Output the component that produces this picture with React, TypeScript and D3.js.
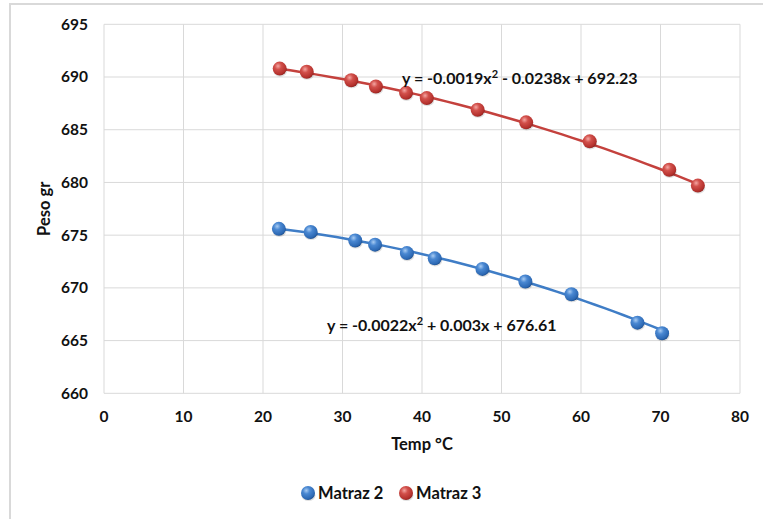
import React from 'react';
import * as d3 from 'd3';

// Matraz 2 (blue)
const tempM2 = [22.0, 26.0, 31.6, 34.1, 38.1, 41.6, 47.6, 53.0, 58.8, 67.1, 70.2];
const pesoM2 = [675.6, 675.3, 674.5, 674.1, 673.3, 672.8, 671.8, 670.6, 669.4, 666.7, 665.7];
// Matraz 3 (red)
const tempM3 = [22.1, 25.5, 31.1, 34.2, 38.0, 40.6, 47.0, 53.1, 61.1, 71.1, 74.7];
const pesoM3 = [690.8, 690.5, 689.7, 689.1, 688.5, 688.0, 686.9, 685.7, 683.9, 681.2, 679.7];

// trendline coefficients [a, b, c] for a x^2 + b x + c
const fitM2 = [-0.0022, 0.003, 676.61];
const fitM3 = [-0.0019, -0.0238, 692.23];

const xTicks = [0, 10, 20, 30, 40, 50, 60, 70, 80];
const yTicks = [660, 665, 670, 675, 680, 685, 690, 695];

const W = 763;
const H = 519;
const FONT = 'Lato, "Open Sans", sans-serif';
const INK = '#111';

const x = d3.scaleLinear().domain([0, 80]).range([104, 740]);
const y = d3.scaleLinear().domain([660, 695]).range([393.3, 24.3]);

const series = [
  { name: 'Matraz 2', xs: tempM2, ys: pesoM2, fit: fitM2, line: '#3f7dc6', grad: 'gBlue', eq: 'y = -0.0022x', eqRest: ' + 0.003x + 676.61', eqX: 327, eqY: 331 },
  { name: 'Matraz 3', xs: tempM3, ys: pesoM3, fit: fitM3, line: '#c4413d', grad: 'gRed', eq: 'y = -0.0019x', eqRest: ' - 0.0238x + 692.23', eqX: 402, eqY: 84 },
];

const trend = (fit: number[], xs: number[]) => {
  const [lo, hi] = d3.extent(xs) as [number, number];
  const pts: [number, number][] = d3.range(0, 41).map(i => {
    const t = lo + (hi - lo) * i / 40;
    return [t, fit[0] * t * t + fit[1] * t + fit[2]];
  });
  return d3.line<[number, number]>().x(d => x(d[0])).y(d => y(d[1]))(pts) || '';
};

const Ball = ({ cx, cy, grad, r = 7 }: { cx: number; cy: number; grad: string; r?: number }) => (
  <g>
    <ellipse cx={cx + 0.5} cy={cy + 2.5} rx={r} ry={r * 0.8} fill="#000" opacity={0.12} />
    <circle cx={cx} cy={cy} r={r} fill={`url(#${grad})`} />
  </g>
);

export default function App() {
  return (
    <svg width={W} height={H} style={{ position: 'absolute', left: 0, top: 0, background: '#fff' }}>
      <defs>
        <radialGradient id="gRed" cx="0.38" cy="0.32" r="0.7">
          <stop offset="0" stopColor="#f4a6a2" />
          <stop offset="0.35" stopColor="#d2504b" />
          <stop offset="0.85" stopColor="#b3302c" />
          <stop offset="1" stopColor="#8e2320" />
        </radialGradient>
        <radialGradient id="gBlue" cx="0.38" cy="0.32" r="0.7">
          <stop offset="0" stopColor="#a8cbf2" />
          <stop offset="0.35" stopColor="#4a88d2" />
          <stop offset="0.85" stopColor="#2c68b3" />
          <stop offset="1" stopColor="#1e4f8e" />
        </radialGradient>
      </defs>

      {/* chart border */}
      <rect x={10} y={4} width={W + 10} height={H + 10} fill="none" stroke="#d9d9d9" strokeWidth={2} />

      {/* gridlines */}
      {xTicks.map(t => (
        <line key={'gx' + t} x1={x(t)} x2={x(t)} y1={y(695)} y2={y(660)} stroke="#d9d9d9" strokeWidth={1} />
      ))}
      {yTicks.map(t => (
        <line key={'gy' + t} x1={x(0)} x2={x(80)} y1={y(t)} y2={y(t)} stroke="#d9d9d9" strokeWidth={1} />
      ))}

      {/* tick labels */}
      {yTicks.map(t => (
        <text key={'ty' + t} x={88} y={y(t)} dy="0.35em" textAnchor="end" fontFamily={FONT} fontWeight="bold" fontSize={15.5} fill={INK}>{t}</text>
      ))}
      {xTicks.map(t => (
        <text key={'tx' + t} x={x(t)} y={417} dy="0.35em" textAnchor="middle" fontFamily={FONT} fontWeight="bold" fontSize={15.5} fill={INK}>{t}</text>
      ))}

      {/* axis titles */}
      <text x={x(40)} y={444} dy="0.35em" textAnchor="middle" fontFamily={FONT} fontWeight="bold" fontSize={16.5} fill={INK}>Temp °C</text>
      <text transform={`translate(44,${(y(660) + y(695)) / 2}) rotate(-90)`} dy="0.35em" textAnchor="middle" fontFamily={FONT} fontWeight="bold" fontSize={16.5} fill={INK}>Peso gr</text>

      {/* trendlines and markers */}
      {series.map(s => (
        <g key={s.name}>
          <path d={trend(s.fit, s.xs)} fill="none" stroke={s.line} strokeWidth={2.5} />
          {s.xs.map((v, i) => (
            <Ball key={i} cx={x(v)} cy={y(s.ys[i])} grad={s.grad} />
          ))}
        </g>
      ))}

      {/* equations */}
      {series.map(s => (
        <text key={'eq' + s.name} x={s.eqX} y={s.eqY} fontFamily={FONT} fontWeight="bold" fontSize={16} fill={INK}>
          {s.eq}
          <tspan dy={-6} fontSize={11}>2</tspan>
          <tspan dy={6}>{s.eqRest}</tspan>
        </text>
      ))}

      {/* legend */}
      {series.map((s, i) => (
        <g key={'lg' + s.name} transform={`translate(${308 + i * 98},493)`}>
          <Ball cx={0} cy={0} grad={s.grad} r={7} />
          <text x={10} y={0} dy="0.35em" fontFamily={FONT} fontWeight="bold" fontSize={16.5} fill={INK}>{s.name}</text>
        </g>
      ))}
    </svg>
  );
}
